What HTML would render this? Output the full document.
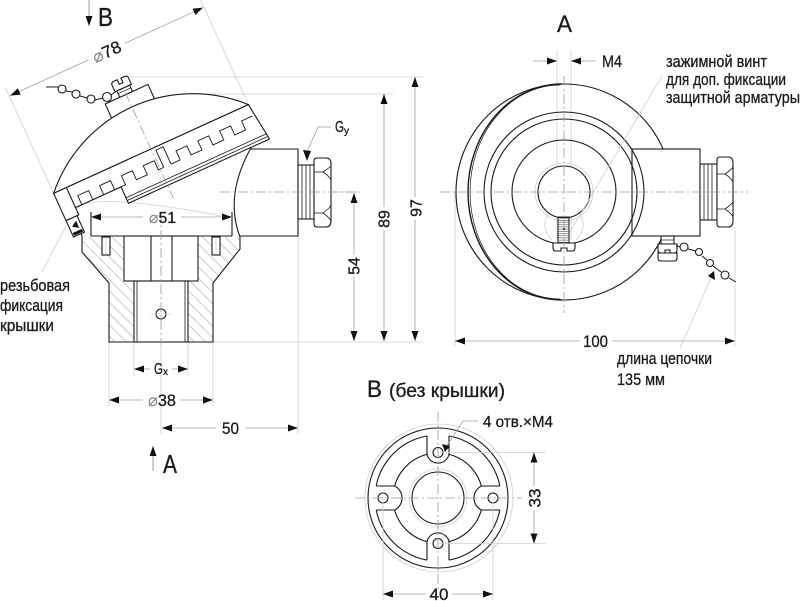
<!DOCTYPE html>
<html><head><meta charset="utf-8"><style>
html,body{margin:0;padding:0;background:#fff;}
svg{display:block;}
text{font-family:"Liberation Sans","DejaVu Sans",sans-serif;fill:#1a1a1a;stroke:#1a1a1a;stroke-width:0.3;}
.k{stroke:#1a1a1a;stroke-width:1.1;fill:none;}
.kw{stroke:#1a1a1a;stroke-width:1.1;fill:#fff;}
.g{stroke:#a0a0a0;stroke-width:0.8;fill:none;}
.lg{stroke:#cfcfcf;stroke-width:0.8;fill:none;}
.c{stroke:#9a9a9a;stroke-width:0.8;fill:none;stroke-dasharray:10 3 2 3;}
.d{stroke:#a0a0a0;stroke-width:0.8;fill:none;marker-start:url(#ar);marker-end:url(#ar);}
.de{stroke:#a0a0a0;stroke-width:0.8;fill:none;marker-end:url(#ar);}
.dia{fill:#888;stroke:#888;stroke-width:0.1;}
</style></head><body>
<svg width="800" height="601" viewBox="0 0 800 601" xmlns="http://www.w3.org/2000/svg">
<defs>
<marker id="ar" viewBox="0 0 10 7" refX="10" refY="3.5" markerWidth="10" markerHeight="7" markerUnits="userSpaceOnUse" orient="auto-start-reverse"><path d="M0,0 L10,3.5 L0,7z" fill="#111"/></marker>
<pattern id="h" patternUnits="userSpaceOnUse" width="8" height="8" patternTransform="rotate(45)"><rect x="0" y="0" width="8" height="0.7" fill="#b5b5b5"/></pattern>
<pattern id="hs" patternUnits="userSpaceOnUse" width="4" height="2.2"><rect x="0" y="0" width="4" height="0.6" fill="#555"/></pattern>
</defs>

<!-- ================= LEFT VIEW ================= -->
<line x1="89" y1="0" x2="89" y2="26" class="de" style="stroke:#888"/>
<text x="98" y="26" font-size="26" textLength="15" lengthAdjust="spacingAndGlyphs">B</text>

<line x1="128" y1="77" x2="423" y2="77" class="lg"/>
<line x1="190" y1="94" x2="393" y2="94" class="lg"/>
<line x1="108" y1="342" x2="423" y2="342" class="lg"/>
<line x1="298" y1="236" x2="298" y2="434" class="lg"/>
<line x1="109" y1="342" x2="109" y2="406" class="lg"/>
<line x1="213" y1="342" x2="213" y2="406" class="lg"/>
<line x1="134" y1="342" x2="134" y2="376" class="lg"/>
<line x1="188" y1="342" x2="188" y2="376" class="lg"/>
<line x1="161" y1="345" x2="161" y2="434" class="lg"/>
<line x1="330" y1="192" x2="360" y2="192" class="lg"/>

<polygon points="82,237 124,237 124,281 134,281 134,342 109,342 109,283 82,252" fill="url(#h)"/>
<polygon points="198,237 240,237 240,248 213,283 213,342 188,342 188,281 198,281" fill="url(#h)"/>
<path d="M74,222 L80,230 L82,236 L82,252 L109,283 L109,342 L213,342 L213,283 L240,249 L240,237" class="k"/>
<line x1="91" y1="236" x2="232" y2="236" class="k"/>
<line x1="91" y1="212" x2="91" y2="236" class="k"/>
<line x1="232" y1="212" x2="232" y2="236" class="k"/>
<path d="M80,205 Q110,194 232,218" class="lg"/>
<rect x="124" y="236" width="74" height="45" class="kw"/>
<line x1="151" y1="236" x2="151" y2="281" class="k"/>
<line x1="172" y1="236" x2="172" y2="281" class="k"/>
<rect x="134" y="281" width="54" height="61" class="kw"/>
<line x1="137" y1="281" x2="137" y2="342" class="k" style="stroke-width:0.8"/>
<line x1="185" y1="281" x2="185" y2="342" class="k" style="stroke-width:0.8"/>
<circle cx="161" cy="314" r="5" class="k"/>
<line x1="151" y1="314" x2="171" y2="314" class="lg"/>
<line x1="161" y1="212" x2="161" y2="345" class="c"/>
<rect x="102" y="237" width="8" height="18" class="kw"/>
<line x1="106" y1="238" x2="106" y2="254" class="lg"/>
<rect x="212" y="237" width="8" height="18" class="kw"/>
<line x1="216" y1="238" x2="216" y2="254" class="lg"/>

<path d="M250,149 H298 V236 H240" class="k"/>
<path d="M252,146 Q224,195 240,237" class="k"/>
<rect x="298" y="165" width="16" height="54" class="kw"/>
<line x1="302" y1="165" x2="302" y2="219" class="k" style="stroke-width:0.8"/>
<line x1="306" y1="165" x2="306" y2="219" class="k" style="stroke-width:0.8"/>
<line x1="310" y1="165" x2="310" y2="219" class="k" style="stroke-width:0.8"/>
<path d="M317,158 H326 Q331,158 331,164 V221 Q331,227 326,227 H317 Q314,227 314,224 V161 Q314,158 317,158Z" class="kw"/>
<path d="M314,172 H323 Q329,168 331,166 M323,172 Q329,176 331,180 M314,213 H323 Q329,209 331,205 M323,213 Q329,217 331,221" class="k" style="stroke-width:0.8"/>
<line x1="220" y1="192" x2="360" y2="192" class="c"/>

<path d="M331,127 H318 L307,152" class="g"/>
<path d="M303,150 L307,161 L311,151z" fill="#111"/>
<text x="335" y="132" font-size="16" textLength="9" lengthAdjust="spacingAndGlyphs">G</text>
<text x="344" y="134" font-size="10">y</text>

<g transform="translate(151,149) rotate(-24.5)">
  <line x1="-107" y1="-116" x2="-107" y2="0" class="lg"/>
  <line x1="107" y1="-116" x2="107" y2="0" class="lg"/>
  <line x1="-106" y1="-107" x2="106" y2="-107" class="d"/>
  <rect x="-20" y="-117" width="40" height="18" fill="#fff"/>
  <text x="0" y="-101" font-size="17" text-anchor="middle" textLength="30" lengthAdjust="spacingAndGlyphs"><tspan class="dia">⌀</tspan>78</text>
  <rect x="-23" y="-60" width="47" height="20" class="kw"/>
  <rect x="-7" y="-67" width="14" height="7" class="kw"/>
  <line x1="-7" y1="-64" x2="7" y2="-64" class="k" style="stroke-width:0.7"/>
  <path d="M-9,-67 V-74 Q-9,-77 -6,-77 H-2 V-72 H2 V-77 H6 Q9,-77 9,-74 V-67Z" class="kw"/>
  <path d="M-107,0 A147,147 0 0 1 107,0 Z" class="kw"/>
  <path d="M-107,0 H107 L112,40 H-43 V22 H-93 V30 H-107Z" class="kw"/>
  <path d="M-93,22 H-86 V12 H-74 V22 H-62 V12 H-50 V22 H-38 V12 H-26 V22 H-14 V12 H-2 V22 H4" class="k" style="stroke-width:0.9"/>
  <path d="M4,22 V3 H12 V22" class="k" style="stroke-width:0.9"/>
  <path d="M12,22 H22 V12 H34 V22 H46 V12 H58 V22 H70 V12 H82 V22 H94 V12 H106" class="k" style="stroke-width:0.9"/>
  <line x1="-43" y1="34" x2="111" y2="34" class="k" style="stroke-width:0.8"/>
  <line x1="-43" y1="37" x2="111" y2="37" class="k" style="stroke-width:0.8"/>
  <line x1="-93" y1="0" x2="-93" y2="22" class="k"/>
  <rect x="-107" y="30" width="12" height="18" class="kw"/>
  <path d="M-104,38 L-98,34 L-98,42z" fill="#111"/>
  <rect x="-106" y="44" width="10" height="3" fill="#111"/>
  <line x1="0" y1="-62" x2="0" y2="54" class="c"/>
</g>
<path d="M46,87 H58 M66,91 L72,92 M80,96 L87,98 M95,100 L103,98 M111,95 L118,90" class="k" style="stroke-width:1"/>
<circle cx="62" cy="89" r="4" class="kw"/>
<circle cx="76" cy="94" r="4" class="kw"/>
<circle cx="91" cy="99" r="4" class="kw"/>
<circle cx="107" cy="97" r="4.5" class="kw"/>

<line x1="42" y1="272" x2="66" y2="226" class="lg"/>
<text x="0" y="291" font-size="17" textLength="70" lengthAdjust="spacingAndGlyphs">резьбовая</text>
<text x="0" y="311" font-size="17" textLength="63" lengthAdjust="spacingAndGlyphs">фиксация</text>
<text x="0" y="331" font-size="17" textLength="54" lengthAdjust="spacingAndGlyphs">крышки</text>

<line x1="91" y1="217" x2="143" y2="217" class="de" style="marker-end:none;marker-start:url(#ar)"/>
<line x1="181" y1="217" x2="232" y2="217" class="de"/>
<text x="149" y="223" font-size="16" textLength="27" lengthAdjust="spacingAndGlyphs"><tspan class="dia">⌀</tspan>51</text>

<line x1="354" y1="193" x2="354" y2="341" class="d"/>
<rect x="346" y="255" width="16" height="22" fill="#fff"/>
<text transform="translate(354,266) rotate(-90)" y="5.5" font-size="16" text-anchor="middle">54</text>
<line x1="384" y1="94" x2="384" y2="341" class="d"/>
<rect x="376" y="207" width="16" height="23" fill="#fff"/>
<text transform="translate(384,219) rotate(-90)" y="5.5" font-size="16" text-anchor="middle">89</text>
<line x1="415" y1="77" x2="415" y2="341" class="d"/>
<rect x="407" y="197" width="16" height="23" fill="#fff"/>
<text transform="translate(416,208) rotate(-90)" y="5.5" font-size="16" text-anchor="middle">97</text>

<line x1="134" y1="369" x2="150" y2="369" class="de" style="marker-end:none;marker-start:url(#ar)"/>
<line x1="172" y1="369" x2="188" y2="369" class="de"/>
<text x="154" y="374" font-size="16" textLength="9" lengthAdjust="spacingAndGlyphs">G</text>
<text x="163" y="375" font-size="10">x</text>
<line x1="109" y1="400" x2="143" y2="400" class="de" style="marker-end:none;marker-start:url(#ar)"/>
<line x1="180" y1="400" x2="213" y2="400" class="de"/>
<text x="148" y="406" font-size="17" textLength="28" lengthAdjust="spacingAndGlyphs"><tspan class="dia">⌀</tspan>38</text>
<line x1="162" y1="428" x2="216" y2="428" class="de" style="marker-end:none;marker-start:url(#ar)"/>
<line x1="245" y1="428" x2="298" y2="428" class="de"/>
<text x="222" y="434" font-size="17" textLength="17" lengthAdjust="spacingAndGlyphs">50</text>
<line x1="153" y1="471" x2="153" y2="446" class="de" style="stroke:#888"/>
<text x="163" y="473" font-size="26" textLength="14" lengthAdjust="spacingAndGlyphs">A</text>

<!-- ================= RIGHT VIEW A ================= -->
<text x="557" y="32" font-size="24" textLength="15" lengthAdjust="spacingAndGlyphs">A</text>
<line x1="557" y1="50" x2="557" y2="240" class="lg"/>
<line x1="571" y1="50" x2="571" y2="240" class="lg"/>
<line x1="533" y1="61" x2="557" y2="61" class="de"/>
<line x1="596" y1="61" x2="571" y2="61" class="de"/>
<text x="602" y="67" font-size="17" textLength="20" lengthAdjust="spacingAndGlyphs">M4</text>
<text x="666" y="67" font-size="17" textLength="101" lengthAdjust="spacingAndGlyphs">зажимной винт</text>
<text x="666" y="85" font-size="17" textLength="120" lengthAdjust="spacingAndGlyphs">для доп. фиксации</text>
<text x="666" y="103" font-size="17" textLength="134" lengthAdjust="spacingAndGlyphs">защитной арматуры</text>

<line x1="455" y1="192" x2="455" y2="346" class="lg"/>
<line x1="735" y1="227" x2="735" y2="346" class="lg"/>

<circle cx="564" cy="192" r="108" class="k"/>
<path d="M562,84 A94,108 0 0 0 562,300" class="k" style="stroke-width:1.4"/>
<path d="M560,85 A90,107 0 0 0 560,299" class="k" style="stroke-width:0.7"/>
<rect x="632" y="149" width="68" height="87" class="kw"/>
<circle cx="564" cy="192" r="80" class="k"/>
<circle cx="564" cy="192" r="73" class="k"/>
<circle cx="564" cy="192" r="52" class="k"/>
<circle cx="564" cy="192" r="29" class="lg"/>
<circle cx="564" cy="192" r="26" class="kw"/>
<path d="M548,214 Q540,228 552,240 M580,214 Q588,228 576,240" class="lg"/>
<rect x="558" y="217" width="11" height="26" fill="url(#hs)" stroke="#1a1a1a" stroke-width="1"/>
<circle cx="564" cy="229" r="1.2" fill="#111"/>
<path d="M553,243 H575 V248 Q575,251 572,251 H567 V248 H561 V251 H556 Q553,251 553,248Z" class="kw"/>
<line x1="570" y1="232" x2="662" y2="76" class="lg"/>
<rect x="700" y="164" width="17" height="56" class="kw"/>
<line x1="704" y1="164" x2="704" y2="220" class="k" style="stroke-width:0.8"/>
<line x1="708" y1="164" x2="708" y2="220" class="k" style="stroke-width:0.8"/>
<line x1="712" y1="164" x2="712" y2="220" class="k" style="stroke-width:0.8"/>
<path d="M720,157 H728 Q733,157 733,163 V221 Q733,227 728,227 H720 Q717,227 717,224 V160 Q717,157 720,157Z" class="kw"/>
<path d="M717,174 H725 Q731,170 733,167 M725,174 Q731,178 733,182 M717,209 H725 Q731,205 733,202 M725,209 Q731,213 733,217" class="k" style="stroke-width:0.8"/>
<rect x="661" y="236" width="13" height="8" class="kw"/>
<line x1="661" y1="240" x2="674" y2="240" class="k" style="stroke-width:0.7"/>
<path d="M658,244 H677 V250 Q677,253 674,253 H670 V250 H665 V253 H661 Q658,253 658,250Z" class="kw"/>
<path d="M658,253 H677 V258 Q677,261 674,261 H661 Q658,261 658,258Z" class="kw"/>
<path d="M676,246 L681,247 M688,249 L696,251 M702,256 L707,260 M713,266 L721,272 M729,278 L736,282" class="k" style="stroke-width:1"/>
<circle cx="684" cy="247" r="4" class="kw"/>
<circle cx="699" cy="252" r="3.5" class="kw"/>
<circle cx="710" cy="263" r="3.5" class="kw"/>
<circle cx="725" cy="275" r="4" class="kw"/>
<line x1="680" y1="348" x2="712" y2="276" class="lg"/>
<path d="M708,276 L714,271 L715,280z" fill="#111"/>
<line x1="440" y1="192" x2="748" y2="192" class="c"/>
<line x1="564" y1="76" x2="564" y2="313" class="c"/>
<line x1="455" y1="341" x2="580" y2="341" class="de" style="marker-end:none;marker-start:url(#ar)"/>
<line x1="612" y1="341" x2="735" y2="341" class="de"/>
<text x="583" y="347" font-size="17" textLength="25" lengthAdjust="spacingAndGlyphs">100</text>
<text x="617" y="364" font-size="17" textLength="95" lengthAdjust="spacingAndGlyphs">длина цепочки</text>
<text x="617" y="385" font-size="17" textLength="48" lengthAdjust="spacingAndGlyphs">135 мм</text>

<!-- ================= VIEW B ================= -->
<text x="367" y="397" font-size="24" textLength="15" lengthAdjust="spacingAndGlyphs">B</text>
<text x="389" y="397" font-size="19" textLength="116" lengthAdjust="spacingAndGlyphs">(без крышки)</text>

<circle cx="439" cy="498" r="74" class="lg"/>
<circle cx="438" cy="498" r="70" class="k"/>
<circle cx="438" cy="498" r="63" class="k"/>
<circle cx="438" cy="498" r="45" class="k"/>
<circle cx="438" cy="498" r="29" class="lg"/>
<circle cx="438" cy="498" r="26" class="k"/>
<g fill="#fff" stroke="none">
<path d="M427,432 V454.4 A11.3,11.3 0 0 0 449,454.4 V432Z"/>
<path d="M427,564 V541.6 A11.3,11.3 0 0 1 449,541.6 V564Z"/>
<path d="M372,486 H394.6 A13.4,13.4 0 0 1 394.6,510 H372Z"/>
<path d="M504,486 H481.4 A13.4,13.4 0 0 0 481.4,510 H504Z"/>
</g>
<g class="k">
<path d="M427,436 V454.4 A11.3,11.3 0 0 0 449,454.4 V436"/>
<path d="M427,560 V541.6 A11.3,11.3 0 0 1 449,541.6 V560"/>
<path d="M376.2,486 H394.6 A13.4,13.4 0 0 1 394.6,510 H376.2"/>
<path d="M499.8,486 H481.4 A13.4,13.4 0 0 0 481.4,510 H499.8"/>
</g>
<circle cx="438" cy="452.5" r="5" class="k"/>
<circle cx="438" cy="543.5" r="5" class="k"/>
<circle cx="383" cy="498" r="5" class="k"/>
<circle cx="493" cy="498" r="5" class="k"/>
<line x1="355" y1="498" x2="522" y2="498" class="c"/>
<line x1="438" y1="412" x2="438" y2="592" class="c"/>
<path d="M478,421 H463 L446,447" class="g"/>
<path d="M442,444 L445,452 L450,446z" fill="#111"/>
<text x="483" y="427" font-size="16" textLength="70" lengthAdjust="spacingAndGlyphs">4 отв.×M4</text>
<line x1="438" y1="452.5" x2="546" y2="452.5" class="lg"/>
<line x1="438" y1="543.5" x2="546" y2="543.5" class="lg"/>
<line x1="534" y1="452.5" x2="534" y2="543.5" class="d"/>
<rect x="526" y="486" width="16" height="24" fill="#fff"/>
<text transform="translate(535,498) rotate(-90)" y="5.5" font-size="17" text-anchor="middle">33</text>
<line x1="383" y1="498" x2="383" y2="600" class="lg"/>
<line x1="493" y1="498" x2="493" y2="600" class="lg"/>
<line x1="383" y1="594" x2="426" y2="594" class="de" style="marker-end:none;marker-start:url(#ar)"/>
<line x1="452" y1="594" x2="493" y2="594" class="de"/>
<text x="439" y="600" font-size="17" text-anchor="middle">40</text>
</svg>
</body></html>
